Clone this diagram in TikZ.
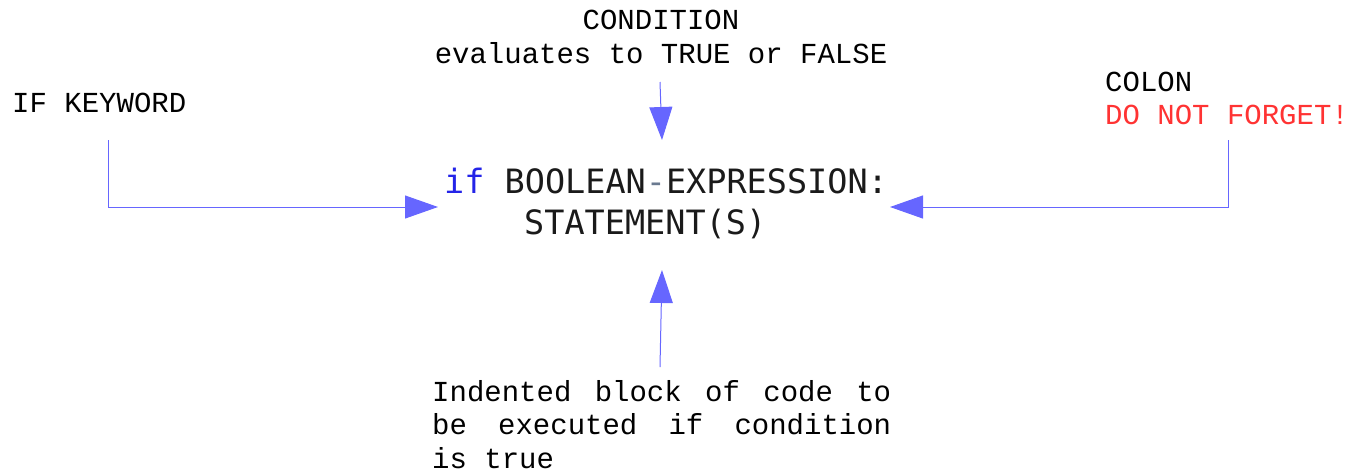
\documentclass[tikz,border=0pt]{standalone}
\usepackage{fontspec}
\usetikzlibrary{arrows.meta}
\newfontfamily\monof{Liberation Mono}
\newfontfamily\codef{DejaVu Sans Mono}
\definecolor{arrowblue}{HTML}{6666FF}
\definecolor{kwblue}{HTML}{2424E8}
\definecolor{dashgray}{HTML}{6A7A90}
\definecolor{warnred}{HTML}{FF3333}
\definecolor{codeblack}{HTML}{1A1A1A}
\begin{document}
\begin{tikzpicture}[x=1pt,y=-1pt,
  lbl/.style={inner sep=0pt,font=\monof\fontsize{29}{34}\selectfont},
  codetxt/.style={inner sep=0pt,anchor=base west,text=codeblack,font=\codef\fontsize{33.5}{40}\selectfont},
  conn/.style={draw=arrowblue,line width=1pt,-{Triangle[length=33pt,width=23pt]}}]
\useasboundingbox (0,0) rectangle (1350,472);
% texts
\node[lbl,align=center] (cond) at (661,37) {CONDITION\\evaluates to TRUE or FALSE};
\node[lbl,anchor=base west] (kw) at (12,112) {IF KEYWORD};
\node[lbl,anchor=base west,align=left] (colon) at (1105,91) {COLON};
\node[lbl,anchor=base west,text=warnred] (warn) at (1105,124) {DO NOT FORGET!};
\node[codetxt] (code1) at (444,193) {\textcolor{kwblue}{if} BOOLEAN\textcolor{dashgray}{-}EXPRESSION:};
\node[codetxt] (code2) at (524,234) {STATEMENT(S)};
\node[lbl,anchor=north west,text width=459pt,align=justify,font=\monof\fontsize{29}{33.5}\selectfont] (block) at (432,380)
  {Indented block of code to\linebreak be executed if condition\linebreak is true};
% connector ends
\coordinate (kwend) at (108,140);
\coordinate (kwtip) at (438,207);
\coordinate (coend) at (1228,140);
\coordinate (cotip) at (890,207);
\coordinate (cdend) at (660,82);
\coordinate (cdtip) at (662,140);
\coordinate (blend) at (660,367);
\coordinate (bltip) at (662,270);
\draw[conn] (kwend) |- (kwtip);
\draw[conn] (coend) |- (cotip);
\draw[conn] (cdend) -- (cdtip);
\draw[conn] (blend) -- (bltip);
\end{tikzpicture}
\end{document}
